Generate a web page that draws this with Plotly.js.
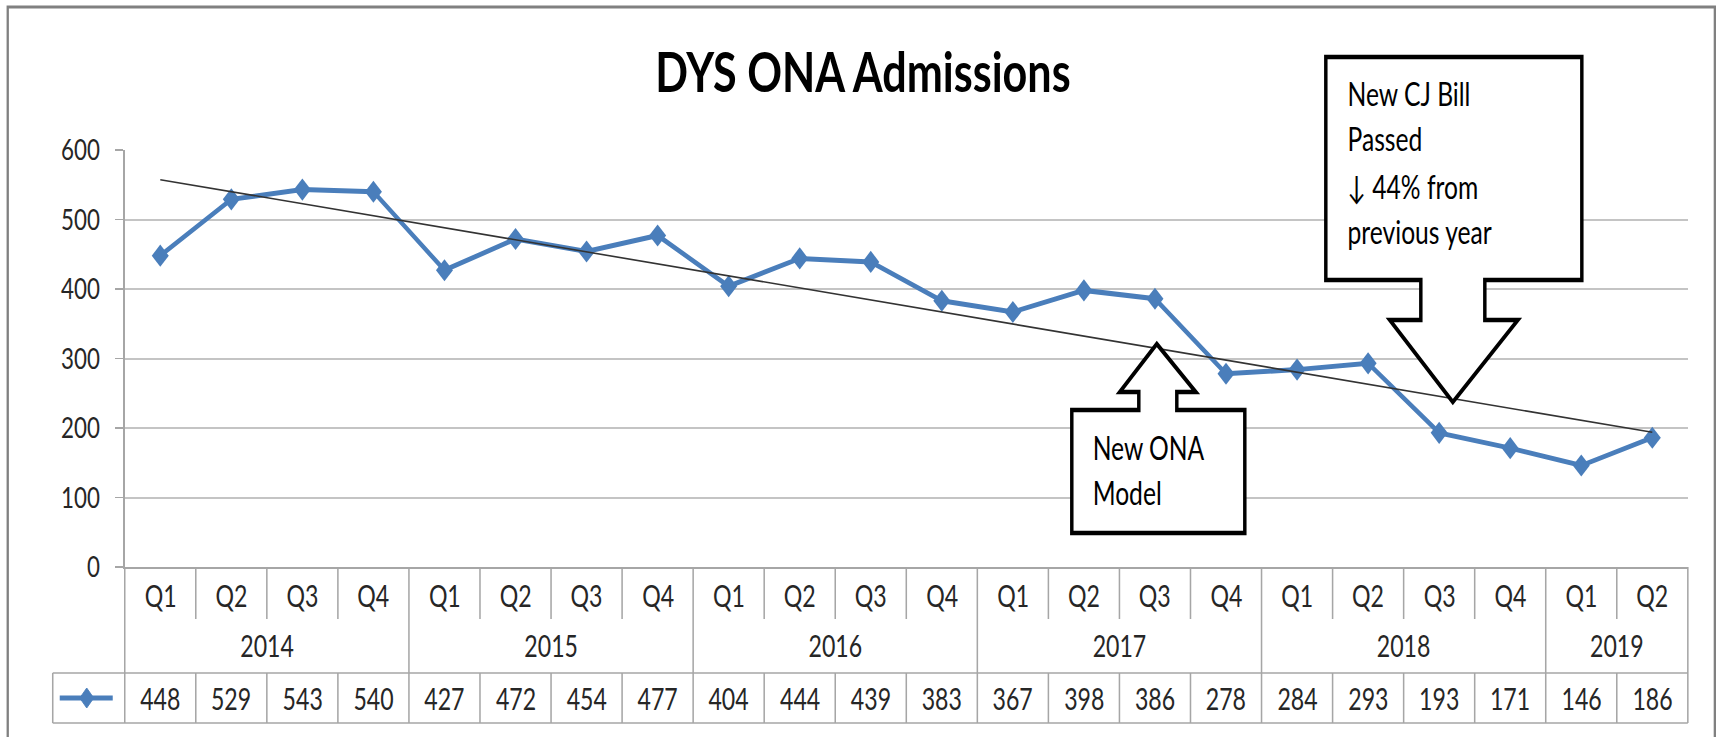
<!DOCTYPE html>
<html><head><meta charset="utf-8">
<script src="https://cdn.plot.ly/plotly-3.0.1.min.js"></script>
<style>
html,body{margin:0;padding:0;background:#fff;overflow:hidden}
#wrap{width:1719px;height:737px;overflow:hidden;position:relative}
#chart{height:737px;transform-origin:0 0}
</style>
</head><body><div id="wrap"><div id="chart"></div></div>
<script>
// ---------- data ----------
const chartTitle = 'DYS ONA Admissions';
const years = ['2014', '2015', '2016', '2017', '2018', '2019'];
const quartersPerYear = [4, 4, 4, 4, 4, 2];
const quarterLabels = ['Q1','Q2','Q3','Q4','Q1','Q2','Q3','Q4','Q1','Q2','Q3','Q4',
                       'Q1','Q2','Q3','Q4','Q1','Q2','Q3','Q4','Q1','Q2'];
const admissions = [448, 529, 543, 540, 427, 472, 454, 477, 404, 444, 439, 383,
                    367, 398, 386, 278, 284, 293, 193, 171, 146, 186];
const yTicks = [0, 100, 200, 300, 400, 500, 600];
const calloutONA = ['New ONA', 'Model'];
const calloutCJ = ['New CJ Bill', 'Passed', '\u2193 44% from', 'previous year'];

// ---------- derived ----------
const yearOfIndex = [];
const yearGroups = [];
{
  let k = 0;
  years.forEach((y, gi) => {
    const start = k;
    for (let j = 0; j < quartersPerYear[gi]; j++) { yearOfIndex.push(y); k++; }
    yearGroups.push({year: y, start: start, end: k - 1});
  });
}
const categories = quarterLabels.map((q, i) => yearOfIndex[i] + ' ' + q);

// linear trendline (least squares over index)
const n = admissions.length;
const idx = admissions.map((_, i) => i + 1);
const mx = idx.reduce((a, b) => a + b, 0) / n;
const my = admissions.reduce((a, b) => a + b, 0) / n;
let sxy = 0, sxx = 0;
for (let i = 0; i < n; i++) { sxy += (idx[i] - mx) * (admissions[i] - my); sxx += (idx[i] - mx) ** 2; }
const slope = sxy / sxx;
const trend = idx.map(x => my + slope * (x - mx));

// ---------- geometry (final pixels; the chart is drawn wider and squeezed horizontally) ----------
const S = 0.77;
const W = 1719, H = 737, L = 125, R = 31, T = 150, B = 170;
const plotW = W - L - R, plotH = H - T - B;
const px = X => (X - L) / plotW;
const py = Y => (H - B - Y) / plotH;
document.getElementById('chart').style.width = (W / S) + 'px';
document.getElementById('chart').style.transform = 'scaleX(' + S + ')';

const FONT = "Lato, 'Liberation Sans', Arial, sans-serif";
const TXT = '#262626';
const BLUE = '#4A7EBB';
const TABLE = '#A6A6A6';

const shapes = [];
// outer frame
shapes.push({type: 'rect', xref: 'paper', yref: 'paper', x0: px(8), x1: px(1715), y0: py(7), y1: py(770),
  line: {color: '#808080', width: 3}, layer: 'below'});

// table lines
const yAxisBottom = py(567), yQbot = py(619), yValTop = py(673), yValBot = py(723);
const TW = 1.6, TWV = 2.0;
function hline(y, x0, x1) { shapes.push({type: 'line', xref: 'paper', yref: 'paper', x0: x0, x1: x1, y0: y, y1: y, line: {color: TABLE, width: TW}}); }
function vlineP(x, y0, y1) { shapes.push({type: 'line', xref: 'paper', yref: 'paper', x0: x, x1: x, y0: y0, y1: y1, line: {color: TABLE, width: TWV}}); }
function vlineX(x, y0, y1) { shapes.push({type: 'line', xref: 'x', yref: 'paper', x0: x, x1: x, y0: y0, y1: y1, line: {color: TABLE, width: TWV}}); }
hline(yValTop, px(53), 1);
hline(yValBot, px(53), 1);
vlineP(px(53), yValTop, yValBot);
vlineP(0, yAxisBottom, yValBot);
vlineP(1, yAxisBottom, yValBot);
for (let i = 0; i < n - 1; i++) {
  const b = i + 0.5;
  if (yearOfIndex[i] !== yearOfIndex[i + 1]) {
    vlineX(b, yAxisBottom, yValBot);
  } else {
    vlineX(b, yAxisBottom, yQbot);
    vlineX(b, yValTop, yValBot);
  }
}
// legend key in value row
shapes.push({type: 'line', xref: 'paper', yref: 'paper', x0: px(60), x1: px(113), y0: py(698), y1: py(698),
  line: {color: BLUE, width: 5}});
shapes.push({type: 'path', xref: 'paper', yref: 'paper',
  path: `M ${px(80)} ${py(698)} L ${px(87)} ${py(688)} L ${px(94)} ${py(698)} L ${px(87)} ${py(708)} Z`,
  fillcolor: BLUE, line: {color: BLUE, width: 1}});

// callout arrows
function poly(pts) {
  return 'M ' + pts.map(p => px(p[0]) + ' ' + py(p[1])).join(' L ') + ' Z';
}
shapes.push({type: 'path', xref: 'paper', yref: 'paper', layer: 'above', fillcolor: '#FFFFFF',
  line: {color: '#000000', width: 4.5},
  path: poly([[1072,410],[1139,410],[1139,392],[1120,392],[1157,344],[1196,392],[1177,392],[1177,410],[1245,410],[1245,533],[1072,533]])});
shapes.push({type: 'path', xref: 'paper', yref: 'paper', layer: 'above', fillcolor: '#FFFFFF',
  line: {color: '#000000', width: 4.5},
  path: poly([[1326,57],[1582,57],[1582,280],[1485,280],[1485,320],[1518,320],[1453,402],[1390,320],[1421,320],[1421,280],[1326,280]])});

// ---------- annotations ----------
const annotations = [];
const tableFont = {family: FONT, size: 30, color: TXT};
quarterLabels.forEach((q, i) => annotations.push({xref: 'x', yref: 'paper', x: i, y: py(595), text: q,
  showarrow: false, xanchor: 'center', yanchor: 'middle', font: tableFont}));
yearGroups.forEach(g => annotations.push({xref: 'x', yref: 'paper', x: (g.start + g.end) / 2, y: py(645), text: g.year,
  showarrow: false, xanchor: 'center', yanchor: 'middle', font: tableFont}));
admissions.forEach((v, i) => annotations.push({xref: 'x', yref: 'paper', x: i, y: py(698), text: String(v),
  showarrow: false, xanchor: 'center', yanchor: 'middle', font: tableFont}));
const onaY = [447, 492];
calloutONA.forEach((t, i) => annotations.push({xref: 'paper', yref: 'paper', x: px(1091), y: py(onaY[i]), text: t,
  showarrow: false, xanchor: 'left', yanchor: 'middle', font: {family: FONT, size: 32, color: '#000'}}));
const cjY = [94, 139, 186, 231];
calloutCJ.forEach((t, i) => annotations.push({xref: 'paper', yref: 'paper', x: px(1346), y: py(cjY[i]), text: t,
  showarrow: false, xanchor: 'left', yanchor: 'middle', font: {family: FONT, size: 32, color: '#000'}}));

// ---------- traces ----------
const traces = [
  {type: 'scatter', mode: 'lines+markers', x: categories, y: admissions, name: 'Admissions',
   line: {color: BLUE, width: 5}, marker: {symbol: 'diamond', size: 17, color: BLUE}, cliponaxis: false},
  {type: 'scatter', mode: 'lines', x: categories, y: trend, name: 'Linear trend',
   line: {color: '#333333', width: 1.6}}
];

const layout = {
  width: W / S, height: H,
  margin: {l: L / S, r: R / S, t: T, b: B, pad: 0},
  paper_bgcolor: '#FFFFFF', plot_bgcolor: '#FFFFFF',
  showlegend: false, hovermode: false,
  title: {text: '<b>' + chartTitle + '</b>', xref: 'container', yref: 'container', x: 0.502, y: 1 - 72 / H,
    xanchor: 'center', yanchor: 'middle', font: {family: FONT, size: 56, color: '#000'}},
  xaxis: {type: 'category', categoryorder: 'array', categoryarray: categories, range: [-0.5, n - 0.5],
    showticklabels: false, ticks: '', showgrid: false, zeroline: false,
    showline: true, linecolor: TABLE, linewidth: 1.6},
  yaxis: {range: [0, 600], tickvals: yTicks, ticktext: yTicks.map(String), ticks: 'outside', ticklen: 8 / S,
    tickcolor: TABLE, tickwidth: 1.6, showgrid: true, gridcolor: '#C4C4C4', gridwidth: 2,
    zeroline: false, showline: true, linecolor: TABLE, linewidth: 2, ticklabelstandoff: 14,
    tickfont: {family: FONT, size: 29, color: TXT}},
  shapes: shapes,
  annotations: annotations
};

Plotly.newPlot('chart', traces, layout, {staticPlot: true, displayModeBar: false});
</script>
</body></html>
